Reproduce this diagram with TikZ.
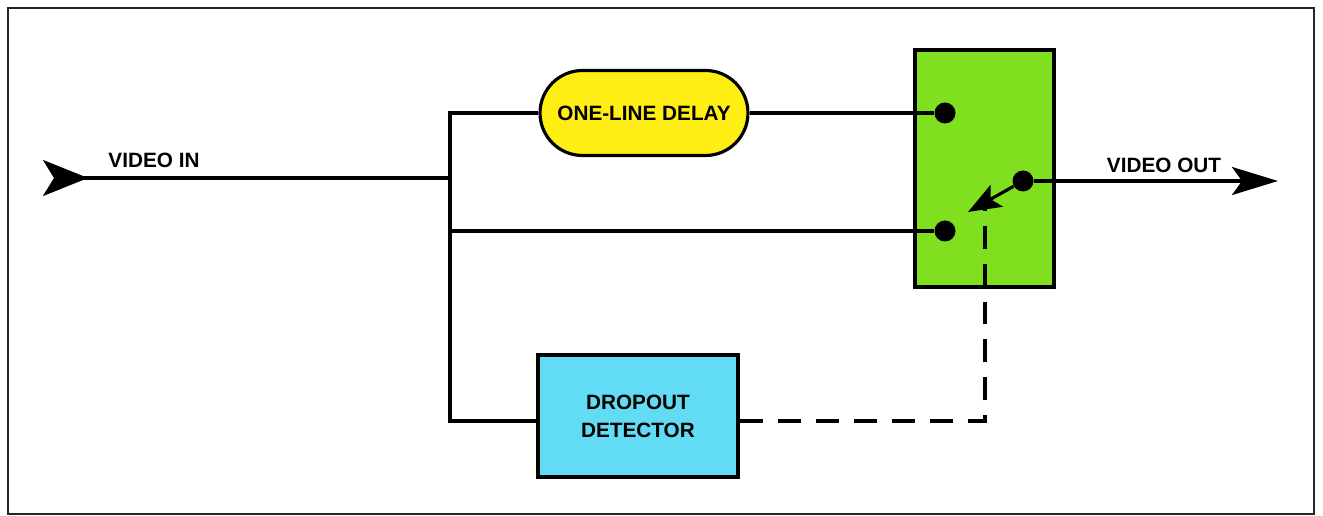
\documentclass[tikz,border=0pt]{standalone}
\usepackage{fontspec}
\setmainfont{Liberation Sans}
\usetikzlibrary{arrows.meta,positioning,shapes.misc}

\definecolor{delayyellow}{RGB}{255,238,20}
\definecolor{switchgreen}{RGB}{128,224,32}
\definecolor{detectcyan}{RGB}{98,220,244}

\tikzset{
  bigtip/.tip={Stealth[length=0.92cm, width=0.56cm, inset=0.2cm]},
  intip/.tip={Stealth[reversed, length=0.9cm, width=0.72cm, inset=0.22cm]},
  armtip/.tip={Stealth[length=0.66cm, width=0.5cm, inset=0.14cm]}
}

\begin{document}
\begin{tikzpicture}[x=0.02cm, y=-0.02cm,
  font=\fontsize{11.8}{16}\selectfont\bfseries,
  wire/.style={black, line width=1.8pt},
  ctrl/.style={wire, dash pattern=on 0.46cm off 0.3cm},
  blockbox/.style={draw=black, line width=1.8pt, align=center, inner sep=0pt},
  contact/.style={circle, fill=black, minimum size=0.42cm, inner sep=0pt}]
\def\jx{450}         % x of the splitting bus
\useasboundingbox (0,0) rectangle (1323,516);

% ================= frame =================
\draw[black!85, line width=1.4pt] (8,8) rectangle (1314,514);

% ================= blocks =================
\node[blockbox, rounded rectangle, fill=delayyellow,
      minimum width=4.16cm, minimum height=1.7cm] (delay) at (644,113) {ONE-LINE DELAY};
\node[blockbox, rectangle, fill=detectcyan,
      minimum width=4.0cm, minimum height=2.44cm] (det) at (638,416) {DROPOUT\\DETECTOR};
\node[blockbox, rectangle, fill=switchgreen,
      minimum width=2.78cm, minimum height=4.74cm] (sw) at (984.5,168.5) {};

% ---------- switch contacts ----------
\node[contact] (ka) at (945,113) {};
\node[contact] (kb) at (945,231) {};
\node[contact] (kc) at (1023,181) {};
\coordinate (armend) at (968,212);
\coordinate (lever) at (985,204);

% ================= bus and branches =================
\coordinate (vin) at (43,178);
\coordinate (jtop) at (\jx,113);
\coordinate (jin) at (\jx,178);
\coordinate (jmid) at (\jx,231);
\coordinate (jbot) at (\jx,421);
\coordinate (vout) at (1278,181);

\draw[wire, {intip}-] (vin) -- (jin);
\draw[wire, line cap=rect] (jtop) -- (jbot);
\draw[wire] (jtop) -- (jtop -| delay.west);
\draw[wire] (delay.east) -- (ka);
\draw[wire] (jmid) -- (kb);
\draw[wire] (jbot) -- (jbot -| det.west);
\draw[wire, -{bigtip}] (kc) -- (vout);

% ---------- switch arm and control ----------
\draw[wire, -{armtip}] (kc) -- (armend);
\draw[ctrl] (det.east |- jbot) -| (lever);

% ================= labels =================
\node (lin) at (154,160) {VIDEO IN};
\node (lout) at (1164,165) {VIDEO OUT};

\end{tikzpicture}
\end{document}
